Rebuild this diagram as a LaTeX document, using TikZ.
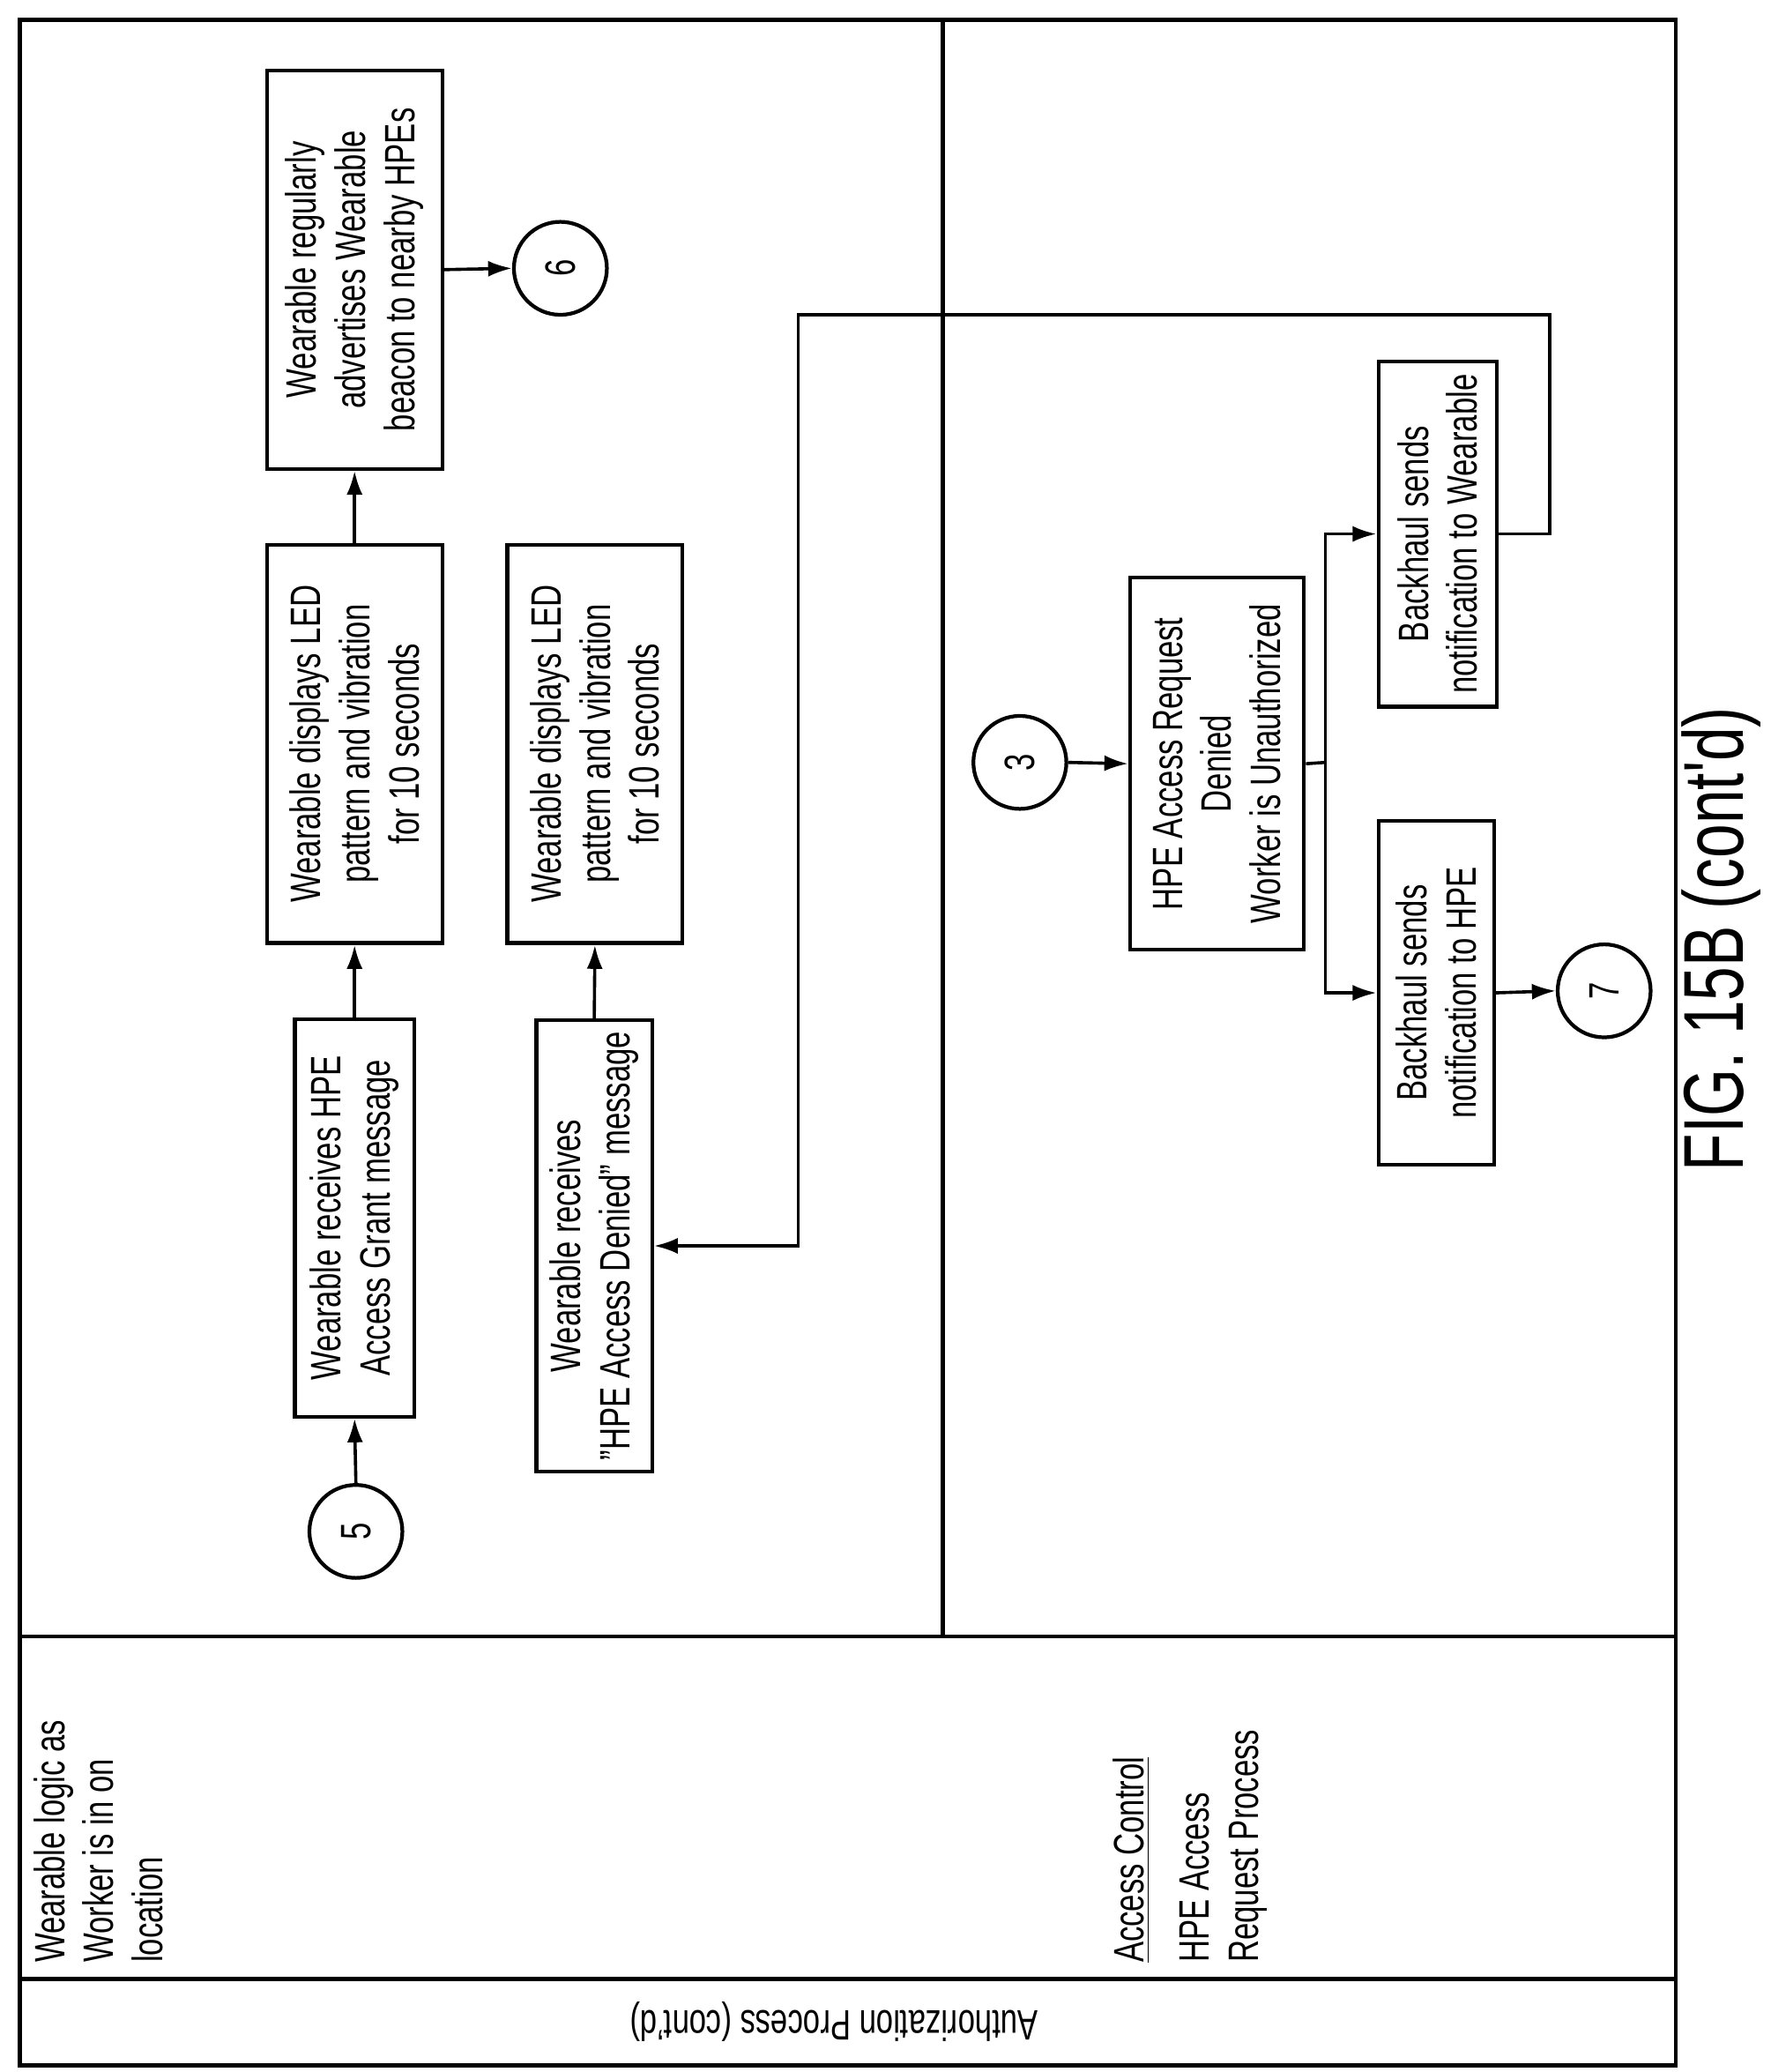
\documentclass[tikz,border=0pt]{standalone}
\usepackage{fontspec}
\setmainfont{Liberation Sans}[FakeStretch=0.72]
\newfontfamily\figfont{Liberation Sans}[FakeStretch=0.72]
\usetikzlibrary{arrows.meta}
\begin{document}
\begin{tikzpicture}[x=0.5pt,y=-0.5pt,
  every node/.style={font=\fontsize{16}{18.5}\selectfont},
  box/.style={draw,line width=1.4pt,rotate=90,align=center,inner sep=0pt},
  circ/.style={draw,circle,line width=1.4pt,minimum size=35pt,inner sep=0pt,rotate=90},
  arr/.style={line width=1.2pt,-{Latex[length=9pt,width=6pt]}},
  ln/.style={line width=1.2pt},
  lbl/.style={rotate=90,align=left,inner sep=0pt}]
\useasboundingbox (0,0) rectangle (1333,1560);
% frame
\draw[line width=1.4pt] (15,15) rectangle (1262,1555);
\draw[line width=1.4pt] (15,1232) -- (1262,1232);
\draw[line width=1.4pt] (15,1490) -- (1262,1490);
\draw[line width=1.4pt] (710,15) -- (710,1232);
\node[rotate=180] (title) at (628,1522) {Authorization Process (cont'd)};
\node[lbl,anchor=north west] (lane1) at (25,1478) {Wearable logic as\\Worker is in on\\location};
\node[lbl,anchor=north west] (lane2) at (838,1478) {\underline{Access Control}\\[6pt]HPE Access\\Request Process};
% boxes
\node[box,minimum width=149.5pt,minimum height=45pt] (b1) at (267,917) {Wearable receives HPE\\Access Grant message};
\node[box,minimum width=150pt,minimum height=66pt] (b2) at (267,560) {Wearable displays LED\\pattern and vibration\\for 10 seconds};
\node[box,minimum width=150pt,minimum height=66pt] (b3) at (267,203) {Wearable regularly\\advertises Wearable\\beacon to nearby HPEs};
\node[box,minimum width=150pt,minimum height=66pt] (b6) at (448,560) {Wearable displays LED\\pattern and vibration\\for 10 seconds};
\node[box,minimum width=170pt,minimum height=43.5pt] (b7) at (447.5,938) {Wearable receives\\"HPE Access Denied" message};
\node[box,minimum width=140pt,minimum height=65.5pt] (b9) at (916.5,575) {HPE Access Request\\Denied\\Worker is Unauthorized};
\node[box,minimum width=130pt,minimum height=44.5pt] (b10) at (1082.5,402) {Backhaul sends\\notification to Wearable};
\node[box,minimum width=129.5pt,minimum height=43.5pt] (b11) at (1081.5,747.5) {Backhaul sends\\notification to HPE};
\node[circ] (c5) at (268,1153) {5};
\node[circ] (c6) at (422,202) {6};
\node[circ] (c3) at (768,574) {3};
\node[circ] (c7) at (1208,746) {7};
% connectors
\draw[arr] (c5.east) -- (b1.west);
\draw[arr] (b1.east) -- (b2.west);
\draw[arr] (b2.east) -- (b3.west);
\draw[arr] (b3.south) -- (c6.north);
\draw[arr] (b7.east) -- (b6.west);
\draw[arr] (c3.south) -- (b9.north);
\coordinate (br) at (998,574);
\draw[ln] (b9.south) -- (br);
\draw[arr] (br) |- (b10.north);
\draw[arr] (br) |- (b11.north);
\draw[arr] (b11.south) -- (c7.north);
\coordinate (r1) at (1167,402);
\coordinate (r2) at (1167,237);
\coordinate (r3) at (601,237);
\coordinate (r4) at (601,938);
\draw[arr] (b10.south) -- (r1) -- (r2) -- (r3) -- (r4) -- (b7.south);
\node[rotate=90,font=\figfont\fontsize{32}{36}\selectfont] (fig) at (1296,707) {FIG. 15B (cont'd)};
\end{tikzpicture}
\end{document}
